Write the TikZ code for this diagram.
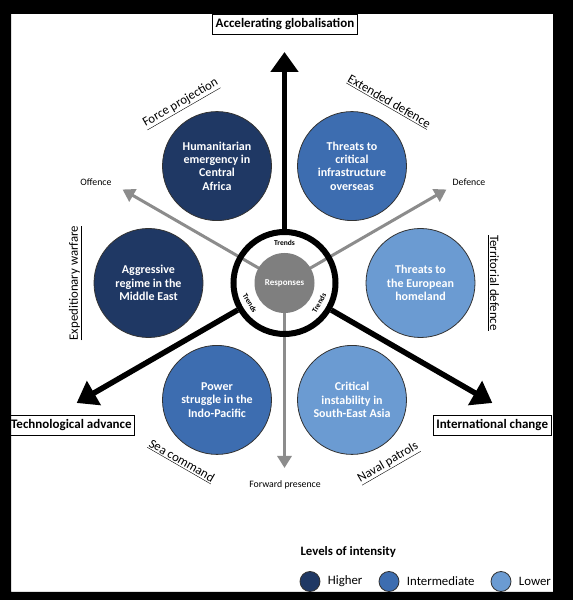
\documentclass[tikz,border=0pt]{standalone}
\usepackage{fontspec}
\setmainfont{Carlito}
\usepackage{xcolor}
\usetikzlibrary{arrows.meta, positioning, calc}

\definecolor{higher}{HTML}{1F3864}
\definecolor{inter}{HTML}{3D6DB0}
\definecolor{lower}{HTML}{6B9BD2}
\definecolor{respgray}{HTML}{7F7F7F}
\definecolor{arrgray}{HTML}{8C8C8C}

\begin{document}
\begin{tikzpicture}[
  x=1pt, y=1pt,
  font=\fontsize{12.8}{15}\selectfont,
  scen/.style={circle, draw=black!80, line width=0.8pt, minimum size=109pt,
               inner sep=0pt, align=center, text=white,
               font=\fontsize{12}{13.4}\selectfont\bfseries},
  trend/.style={-{Triangle[length=20pt, width=27pt]}, line width=5.5pt},
  resp/.style={-{Triangle[length=12pt, width=14pt]}, line width=3pt, draw=arrgray},
  box/.style={rectangle, draw, line width=0.8pt, minimum height=20pt,
              inner xsep=3pt, fill=white, font=\fontsize{13}{15}\selectfont\bfseries},
  lbl/.style={font=\fontsize{12.8}{15}\selectfont},
  small/.style={font=\fontsize{9.8}{11}\selectfont},
  trd/.style={font=\fontsize{7.5}{8}\selectfont\bfseries},
  key/.style={circle, draw=black!80, line width=0.8pt, minimum size=20pt, inner sep=0pt}
]
\useasboundingbox (0,0) rectangle (573,600);
\fill[white] (0,0) rectangle (573,600);

% --- Centre ---
\coordinate (c) at (284.5,317);
\coordinate (tipN)  at ($(c)+(90:231)$);
\coordinate (tipSW) at ($(c)+(210:240)$);
\coordinate (tipSE) at ($(c)+(330:240)$);
\coordinate (off)   at ($(c)+(150:187)$);
\coordinate (def)   at ($(c)+(30:187)$);
\coordinate (fwd)   at ($(c)+(270:185)$);

% responses (grey arrows)
\draw[resp] (c) -- (off);
\draw[resp] (c) -- (def);
\draw[resp] (c) -- (fwd);

\node[circle, draw, line width=6pt, minimum size=102pt, inner sep=0pt] (ring) at (c) {};
\node[circle, fill=respgray, minimum size=60pt, inner sep=0pt, text=white,
      font=\fontsize{9}{10}\selectfont\bfseries] (respc) at (c) {Responses};

\node[trd]             (trN)  at ($(c)+(90:40)$)  {Trends};
\node[trd, rotate=-60] (trSW) at ($(c)+(210:40)$) {Trends};
\node[trd, rotate=60]  (trSE) at ($(c)+(330:40)$) {Trends};

% trends (black arrows)
\draw[trend] (ring.90)  -- (tipN);
\draw[trend] (ring.210) -- (tipSW);
\draw[trend] (ring.330) -- (tipSE);

% --- Scenarios ---
\node[scen, fill=higher] (hum) at ($(c)+(120:135)$) {Humanitarian\\emergency in\\Central\\Africa};
\node[scen, fill=inter]  (inf) at ($(c)+(60:135)$)  {Threats to\\critical\\infrastructure\\overseas};
\node[scen, fill=higher] (agg) at ($(c)+(180:136)$) {Aggressive\\regime in the\\Middle East};
\node[scen, fill=lower]  (eur) at ($(c)+(0:136)$)   {Threats to\\the European\\homeland};
\node[scen, fill=inter]  (pow) at ($(c)+(240:135)$) {Power\\struggle in the\\Indo-Pacific};
\node[scen, fill=lower]  (sea) at ($(c)+(300:135)$) {Critical\\instability in\\South-East Asia};

% --- Roles ---
\node[lbl, rotate=30]  (force) at ($(c)+(120:207)$) {\underline{Force projection}};
\node[lbl, rotate=-30] (ext)   at ($(c)+(60:209)$)  {\underline{Extended defence}};
\node[lbl, rotate=90]  (exp)   at ($(c)+(180:209)$) {\underline{Expeditionary warfare}};
\node[lbl, rotate=-90] (terr)  at ($(c)+(0:209)$)   {\underline{Territorial defence}};
\node[lbl, rotate=-30] (cmd)   at ($(c)+(240:206)$) {\underline{Sea command}};
\node[lbl, rotate=30]  (nav)   at ($(c)+(300:208)$) {\underline{Naval patrols}};

\node[small] (offl) at (96,418)  {Offence};
\node[small] (defl) at (469,418) {Defence};
\node[small] (fwdl) at (285,115) {Forward presence};

% --- Drivers ---
\node[box] (glob) at (285,576) {Accelerating globalisation};
\node[box, anchor=east] (tech) at (135,175) {Technological advance};
\node[box, anchor=west] (intl) at (433,175) {International change};

% --- Legend ---
\node[font=\fontsize{12.8}{15}\selectfont\bfseries, anchor=west] (lev) at (297,48) {Levels of intensity};
\node[key, fill=higher] (k1) at (310,18.5) {};
\node[right=4pt of k1] (t1) {Higher};
\node[key, fill=inter]  (k2) at (389,18.5) {};
\node[right=4pt of k2] (t2) {Intermediate};
\node[key, fill=lower]  (k3) at (501,18.5) {};
\node[right=4pt of k3] (t3) {Lower};

% black frame
\fill[black, even odd rule] (0,0) rectangle (573,600) (11,8) rectangle (553,586);
\end{tikzpicture}
\end{document}
